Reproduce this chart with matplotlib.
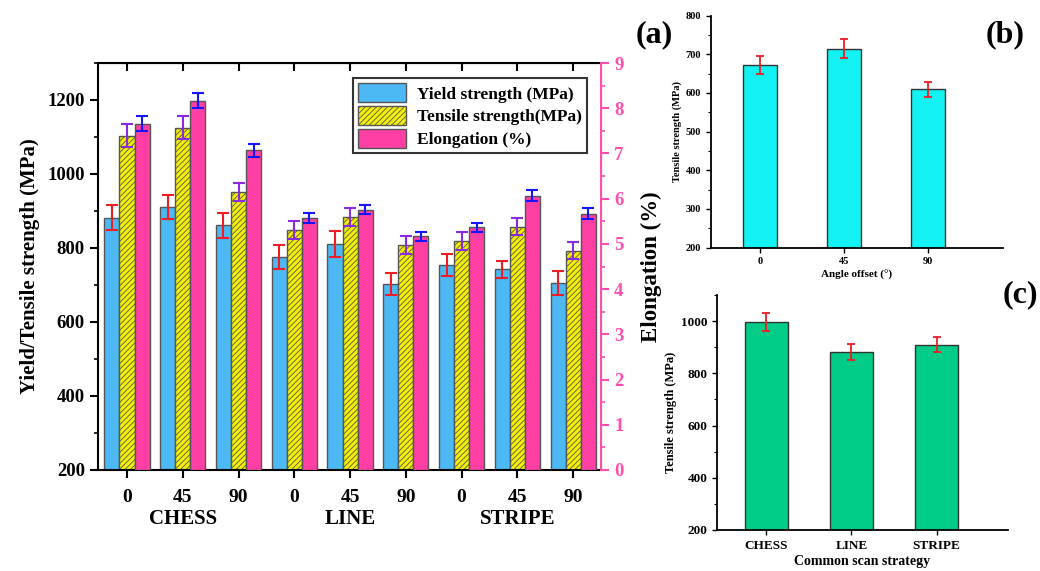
import numpy as np
import matplotlib
matplotlib.use('Agg')
import matplotlib.pyplot as plt
from matplotlib.patches import Patch
from matplotlib.ticker import MultipleLocator

#~ data
angles = ['0', '45', '90', '0', '45', '90', '0', '45', '90']
groups = ['CHESS', 'LINE', 'STRIPE']
yield_mpa = [882, 911, 861, 775, 811, 703, 754, 742, 705]
yield_err = [33, 33, 34, 32, 35, 30, 31, 24, 32]
tensile_mpa = [1104, 1125, 952, 849, 883, 808, 818, 858, 793]
tensile_err = [30, 31, 25, 24, 24, 25, 24, 24, 23]
elong = [7.66, 8.17, 7.07, 5.57, 5.76, 5.17, 5.37, 6.07, 5.67]
elong_err = [0.16, 0.17, 0.14, 0.11, 0.11, 0.10, 0.10, 0.13, 0.12]

offset_labels = ['0', '45', '90']
offset_ts = [672, 714, 609]
offset_err = [22, 24, 20]

scan_labels = ['CHESS', 'LINE', 'STRIPE']
scan_ts = [998, 881, 910]
scan_err = [34, 30, 29]

plt.rcParams['font.family'] = ['Liberation Serif', 'DejaVu Serif']
plt.rcParams['font.weight'] = 'bold'
plt.rcParams['hatch.linewidth'] = 0.6

W, H = 1040, 571
fig = plt.figure(figsize=(W / 100, H / 100), dpi=100)


def px_axes(left, top, right, bottom):
    return fig.add_axes([left / W, 1 - bottom / H, (right - left) / W, (bottom - top) / H])


c_blue = '#4cb9f5'
c_yellow = '#f4f000'
c_pink = '#ff3fa4'
c_rpink = '#ff4fae'
edge = '#555555'

#~ panel (a)
ax = px_axes(98, 63, 601, 470)
ax2 = ax.twinx()
x = np.arange(len(angles))
bw = 0.27
ax.bar(x - bw, yield_mpa, bw, color=c_blue, edgecolor=edge, linewidth=1.0, zorder=2)
ax.errorbar(x - bw, yield_mpa, yerr=yield_err, fmt='none', ecolor='#ee1c25',
            elinewidth=1.5, capsize=4.3, capthick=1.5, zorder=3)
ax.bar(x, tensile_mpa, bw, color=c_yellow, edgecolor=edge, linewidth=1.0,
       hatch='//////', zorder=2)
ax.errorbar(x, tensile_mpa, yerr=tensile_err, fmt='none', ecolor='#8a2be2',
            elinewidth=1.5, capsize=4.3, capthick=1.5, zorder=3)
ax2.bar(x + bw, elong, bw, color=c_pink, edgecolor=edge, linewidth=1.0, zorder=2)
ax2.errorbar(x + bw, elong, yerr=elong_err, fmt='none', ecolor='#1414ff',
             elinewidth=1.5, capsize=4.3, capthick=1.5, zorder=3)

ax.set_xlim(-0.52, 8.5)
ax.set_ylim(200, 1300)
ax2.set_ylim(0, 9)
ax.set_xticks(x)
ax.set_xticklabels(angles, fontsize=14, fontweight='bold')
ax.yaxis.set_major_locator(MultipleLocator(200))
ax.yaxis.set_minor_locator(MultipleLocator(100))
ax.tick_params(axis='y', which='major', labelsize=13.5, length=6, width=1.5)
ax.tick_params(axis='y', which='minor', length=3, width=1.2)
ax.tick_params(axis='x', which='major', length=6, width=1.5, pad=8)
for lab in ax.get_yticklabels():
    lab.set_fontweight('bold')
ax.set_ylabel('Yield/Tensile strength (MPa)', fontsize=15, fontweight='bold', labelpad=5)
for s in ['left', 'bottom', 'top']:
    ax.spines[s].set_linewidth(1.5)

# top ticks point inward
ax_top = ax.secondary_xaxis('top')
ax_top.set_xticks(x)
ax_top.set_xticklabels([])
ax_top.tick_params(direction='in', length=6, width=1.5)

ax2.yaxis.set_major_locator(MultipleLocator(1))
ax2.yaxis.set_minor_locator(MultipleLocator(0.5))
ax2.tick_params(axis='y', which='major', colors=c_rpink, labelsize=13.5, length=6, width=1.5)
ax2.tick_params(axis='y', which='minor', colors=c_rpink, length=3, width=1.2)
ax2.spines['right'].set_color(c_rpink)
ax2.spines['right'].set_linewidth(1.5)
for s in ['left', 'bottom', 'top']:
    ax2.spines[s].set_visible(False)
for lab in ax2.get_yticklabels():
    lab.set_fontweight('bold')
ax2.set_ylabel('Elongation (%)', fontsize=16.5, fontweight='bold', labelpad=12)

for i, g in enumerate(groups):
    ax.text(3 * i + 1, -0.095, g, transform=ax.get_xaxis_transform(),
            ha='center', va='top', fontsize=15, fontweight='bold')

handles = [Patch(facecolor=c_blue, edgecolor=edge),
           Patch(facecolor=c_yellow, edgecolor=edge, hatch='//////'),
           Patch(facecolor=c_pink, edgecolor=edge)]
leg = ax2.legend(handles, ['Yield strength (MPa)', 'Tensile strength(MPa)', 'Elongation (%)'],
                 loc='upper right', bbox_to_anchor=(0.972, 0.963), borderaxespad=0,
                 fontsize=12.5, frameon=True, fancybox=False, edgecolor='black',
                 handlelength=2.8, handleheight=1.3, labelspacing=0.2, borderpad=0.3,
                 handletextpad=0.6)
leg.get_frame().set_linewidth(1.5)
for t in leg.get_texts():
    t.set_fontweight('bold')

fig.text(654 / W, 1 - 35 / H, '(a)', fontsize=23, fontweight='bold', ha='center', va='center')

#~ panel (b)
axb = px_axes(711, 15.5, 1003, 247.5)
xb = np.arange(len(offset_labels))
axb.bar(xb, offset_ts, 0.4, color='#12f2f2', edgecolor='#333333', linewidth=1.0, zorder=2)
axb.errorbar(xb, offset_ts, yerr=offset_err, fmt='none', ecolor='#ee1c25',
             elinewidth=1.3, capsize=2.8, capthick=1.3, zorder=3)
axb.set_xlim(-0.58, 2.89)
axb.set_ylim(200, 800)
axb.set_xticks(xb)
axb.set_xticklabels(offset_labels, fontsize=8, fontweight='bold')
axb.yaxis.set_major_locator(MultipleLocator(100))
axb.yaxis.set_minor_locator(MultipleLocator(50))
axb.tick_params(axis='both', which='major', labelsize=7.5, length=3.5, width=1.0)
axb.tick_params(axis='y', which='minor', length=2, width=0.8)
for lab in axb.get_yticklabels():
    lab.set_fontweight('bold')
axb.spines['top'].set_visible(False)
axb.spines['right'].set_visible(False)
axb.spines['left'].set_linewidth(1.3)
axb.spines['bottom'].set_linewidth(1.3)
axb.set_ylabel('Tensile strength (MPa)', fontsize=7.5, fontweight='bold', labelpad=3)
axb.set_xlabel('Angle offset (°)', fontsize=8, fontweight='bold', labelpad=3)
fig.text(1005 / W, 1 - 35 / H, '(b)', fontsize=23, fontweight='bold', ha='center', va='center')

#~ panel (c)
axc = px_axes(717, 295, 1008, 530)
xc = np.arange(len(scan_labels))
axc.bar(xc, scan_ts, 0.5, color='#00cc88', edgecolor='#333333', linewidth=1.0, zorder=2)
axc.errorbar(xc, scan_ts, yerr=scan_err, fmt='none', ecolor='#ee1c25',
             elinewidth=1.3, capsize=2.8, capthick=1.3, zorder=3)
axc.set_xlim(-0.58, 2.84)
axc.set_ylim(200, 1100)
axc.set_xticks(xc)
axc.set_xticklabels(scan_labels, fontsize=10, fontweight='bold')
axc.yaxis.set_major_locator(MultipleLocator(200))
axc.yaxis.set_minor_locator(MultipleLocator(100))
axc.tick_params(axis='both', which='major', labelsize=9.5, length=3.5, width=1.0)
axc.tick_params(axis='y', which='minor', length=2, width=0.8)
for lab in axc.get_yticklabels():
    lab.set_fontweight('bold')
axc.spines['top'].set_visible(False)
axc.spines['right'].set_visible(False)
axc.spines['left'].set_linewidth(1.3)
axc.spines['bottom'].set_linewidth(1.3)
axc.set_ylabel('Tensile strength (MPa)', fontsize=9, fontweight='bold', labelpad=3)
axc.set_xlabel('Common scan strategy', fontsize=10, fontweight='bold', labelpad=2)
fig.text(1020 / W, 1 - 295 / H, '(c)', fontsize=23, fontweight='bold', ha='center', va='center')

fig.savefig('out.png', dpi=100)
